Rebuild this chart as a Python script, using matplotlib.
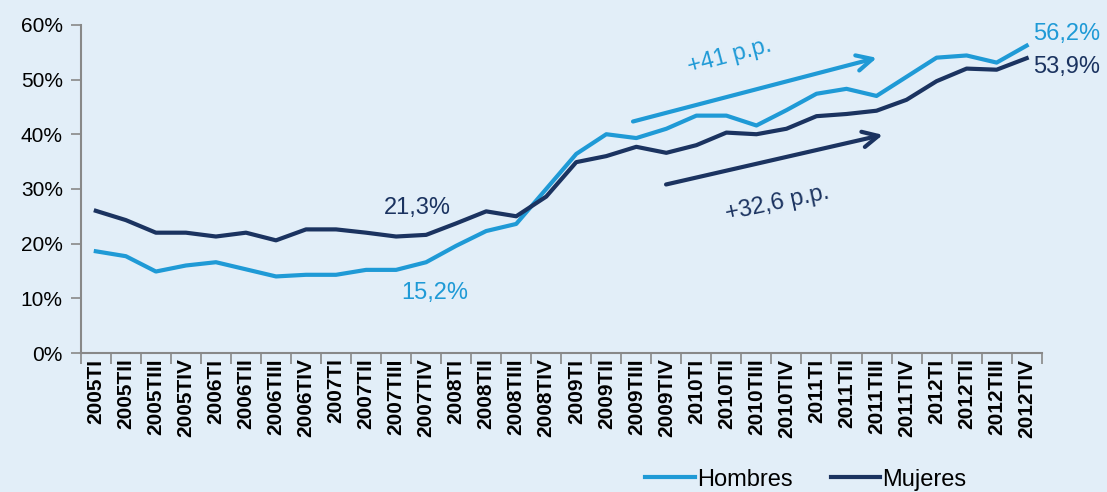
import numpy as np
import matplotlib.pyplot as plt
from matplotlib.lines import Line2D

plt.rcParams['font.family'] = ['Liberation Sans', 'DejaVu Sans']

periodos = ['2005TI', '2005TII', '2005TIII', '2005TIV', '2006TI', '2006TII', '2006TIII', '2006TIV',
            '2007TI', '2007TII', '2007TIII', '2007TIV', '2008TI', '2008TII', '2008TIII', '2008TIV',
            '2009TI', '2009TII', '2009TIII', '2009TIV', '2010TI', '2010TII', '2010TIII', '2010TIV',
            '2011TI', '2011TII', '2011TIII', '2011TIV', '2012TI', '2012TII', '2012TIII', '2012TIV']

hombres = [18.6, 17.7, 14.9, 16.0, 16.6, 15.3, 14.0, 14.3, 14.3, 15.2, 15.2, 16.6,
           19.6, 22.3, 23.6, 30.0, 36.4, 40.0, 39.3, 41.0, 43.4, 43.4, 41.6, 44.4,
           47.4, 48.3, 47.0, 50.5, 54.0, 54.4, 53.1, 56.2]
mujeres = [26.0, 24.3, 22.0, 22.0, 21.3, 22.0, 20.6, 22.6, 22.6, 22.0, 21.3, 21.6,
           23.7, 25.9, 25.0, 28.6, 34.9, 36.0, 37.7, 36.6, 38.0, 40.3, 40.0, 41.0,
           43.3, 43.7, 44.3, 46.3, 49.7, 52.0, 51.8, 53.9]

c_h = '#1f9ad6'
c_m = '#1b3360'
bg = '#e2eef8'

fig = plt.figure(figsize=(11.07, 4.92), dpi=100, facecolor=bg)
ax = fig.add_axes([0.073, 0.2825, 0.868, 0.667], facecolor=bg)

x = np.arange(len(periodos))
ax.plot(x, hombres, color=c_h, lw=3)
ax.plot(x, mujeres, color=c_m, lw=3)

ax.set_xlim(-0.5, len(periodos) - 0.5)
ax.set_ylim(0, 60)
ax.set_yticks(range(0, 61, 10))
ax.set_yticklabels([f'{v}%' for v in range(0, 61, 10)], fontsize=15)
ax.set_xticks(x)
ax.set_xticklabels(periodos, rotation=90, fontsize=15, fontweight='bold')
ax.set_xticks(np.arange(-0.5, len(periodos), 1), minor=True)
ax.tick_params(axis='x', which='major', length=0, pad=4)
ax.tick_params(axis='x', which='minor', length=8, color='#888888', width=1.2)
ax.tick_params(axis='y', length=7, color='#888888', width=1.2, pad=6)
for s in ['top', 'right']:
    ax.spines[s].set_visible(False)
for s in ['left', 'bottom']:
    ax.spines[s].set_color('#888888')
    ax.spines[s].set_linewidth(1.5)

# etiquetas
ax.text(10.7, 26.6, '21,3%', color=c_m, fontsize=17, ha='center', va='center')
ax.text(11.3, 10.9, '15,2%', color=c_h, fontsize=17, ha='center', va='center')
ax.text(31.2, 58.3, '56,2%', color=c_h, fontsize=17, ha='left', va='center', clip_on=False)
ax.text(31.2, 52.3, '53,9%', color=c_m, fontsize=17, ha='left', va='center', clip_on=False)

# flechas
ax.annotate('', xy=(26.1, 54.1), xytext=(17.8, 42.2),
            arrowprops=dict(arrowstyle='->', color=c_h, lw=3, mutation_scale=28))
ax.annotate('', xy=(26.3, 40.0), xytext=(18.9, 30.7),
            arrowprops=dict(arrowstyle='->', color=c_m, lw=3, mutation_scale=28))
ax.text(21.1, 54.3, '+41 p.p.', color=c_h, fontsize=17, rotation=15, ha='center', va='center')
ax.text(22.7, 27.4, '+32,6 p.p.', color=c_m, fontsize=17, rotation=12, ha='center', va='center')

handles = [Line2D([], [], color=c_h, lw=3), Line2D([], [], color=c_m, lw=3)]
fig.legend(handles, ['Hombres', 'Mujeres'], loc='center', bbox_to_anchor=(0.728, 0.025),
           ncol=2, frameon=False, fontsize=17, handlelength=2.1, handletextpad=0.1,
           columnspacing=1.6)

fig.savefig('out.png', dpi=100, facecolor=bg)
